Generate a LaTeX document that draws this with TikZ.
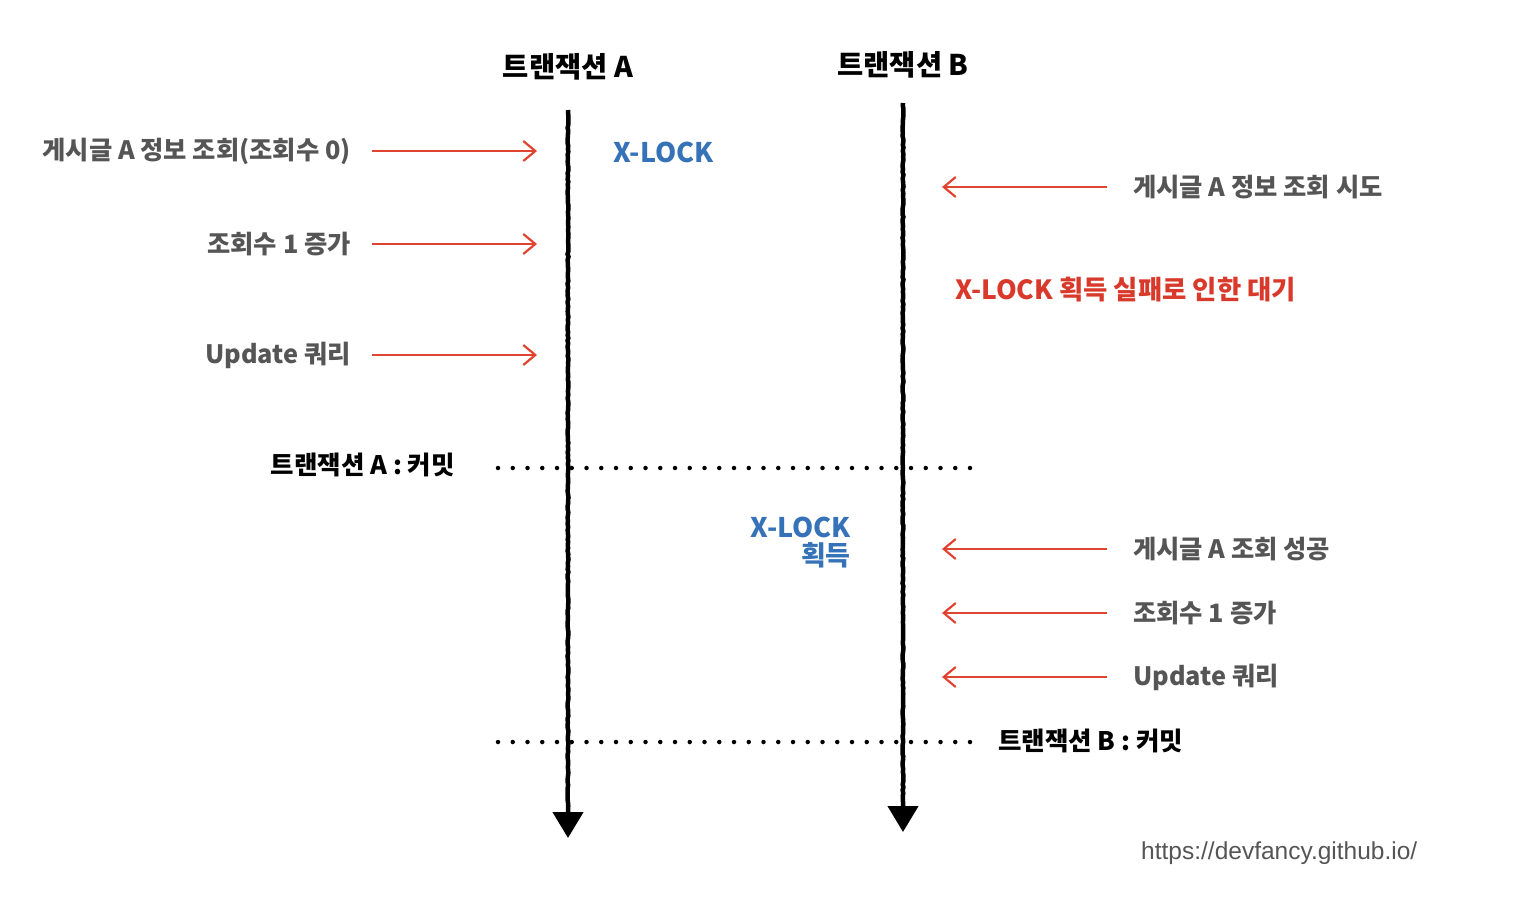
\documentclass[tikz,border=0pt]{standalone}
\usepackage{fontspec}
\setmainfont{Noto Sans CJK KR}
\newfontfamily\urlfont{Liberation Sans}
\usetikzlibrary{arrows.meta,decorations.pathmorphing}
\definecolor{greytxt}{HTML}{555555}
\definecolor{bluetxt}{HTML}{3572B8}
\definecolor{redtxt}{HTML}{D9392B}
\definecolor{redarrow}{HTML}{E0432F}
\tikzset{
  lbl/.style={font=\bfseries\fontsize{25.3}{29}\selectfont, text=greytxt, inner sep=0pt},
  title/.style={font=\bfseries\fontsize{28.5}{32}\selectfont, text=black, inner sep=0pt},
  commit/.style={font=\bfseries\fontsize{25.5}{29}\selectfont, text=black, inner sep=0pt},
  lock/.style={font=\bfseries\fontsize{27}{30}\selectfont, text=bluetxt, inner sep=0pt},
  wait/.style={font=\bfseries\fontsize{26.4}{30}\selectfont, text=redtxt, inner sep=0pt},
  timeline/.style={line width=4.5pt, black, decorate,
    decoration={random steps, segment length=3pt, amplitude=0.5pt, post length=30pt},
    -{Triangle[width=30pt,length=26pt]}},
  msg/.style={line width=2.2pt, redarrow, -{Straight Barb[length=12pt,width=20pt,line width=2.2pt]}},
  dotline/.style={line width=4.5pt, line cap=round, dash pattern=on 0pt off 14.75pt},
}
\begin{document}
\begin{tikzpicture}[x=1pt,y=-1pt]
\useasboundingbox (0,0) rectangle (1514,920);

% titles
\node[title] (tA) at (568,67) {트랜잭션 A};
\node[title] (tB) at (903,65) {트랜잭션 B};

% timelines
\coordinate (a0) at (568,110);
\coordinate (a1) at (568,838);
\coordinate (b0) at (903,103);
\coordinate (b1) at (903,832);
\draw[timeline] (a0) -- (a1);
\draw[timeline] (b0) -- (b1);

% left labels
\node[lbl, anchor=east] (l1) at (351,151) {게시글 A 정보 조회(조회수 0)};
\node[lbl, anchor=east] (l2) at (351,244) {조회수 1 증가};
\node[lbl, anchor=east] (l3) at (351,355) {Update 쿼리};
\coordinate (l1t) at (537,151);
\coordinate (l2t) at (537,244);
\coordinate (l3t) at (537,355);
\draw[msg] ([xshift=21pt]l1.east) -- (l1t);
\draw[msg] ([xshift=21pt]l2.east) -- (l2t);
\draw[msg] ([xshift=21pt]l3.east) -- (l3t);

\node[lock, anchor=west] (lockA) at (613,152) {X-LOCK};

% right labels
\node[lbl, anchor=west] (r1) at (1133,187) {게시글 A 정보 조회 시도};
\node[lbl, anchor=west] (r2) at (1133,549) {게시글 A 조회 성공};
\node[lbl, anchor=west] (r3) at (1133,613) {조회수 1 증가};
\node[lbl, anchor=west] (r4) at (1133,677) {Update 쿼리};
\coordinate (r1t) at (942,187);
\coordinate (r2t) at (942,549);
\coordinate (r3t) at (942,613);
\coordinate (r4t) at (942,677);
\draw[msg] ([xshift=-26pt]r1.west) -- (r1t);
\draw[msg] ([xshift=-26pt]r2.west) -- (r2t);
\draw[msg] ([xshift=-26pt]r3.west) -- (r3t);
\draw[msg] ([xshift=-26pt]r4.west) -- (r4t);

\node[wait, anchor=west] (waitB) at (955,290) {X-LOCK 획득 실패로 인한 대기};

% commit A
\node[commit, anchor=east] (cA) at (455,465) {트랜잭션 A : 커밋};
\coordinate (dA0) at (498,468);
\coordinate (dA1) at (975,468);
\draw[dotline] (dA0) -- (dA1);

% lock acquired
\node[lock, anchor=east] (lockB1) at (851,527) {X-LOCK};
\node[lock, anchor=east] (lockB2) at (851,555) {획득};

% commit B
\coordinate (dB0) at (498,742);
\coordinate (dB1) at (975,742);
\draw[dotline] (dB0) -- (dB1);
\node[commit, anchor=west] (cB) at (998,741) {트랜잭션 B : 커밋};

% url
\node[font=\urlfont\fontsize{24.5}{28}\selectfont, text=greytxt, anchor=west, inner sep=0pt] (url) at (1141,853) {https://devfancy.github.io/};
\end{tikzpicture}
\end{document}
